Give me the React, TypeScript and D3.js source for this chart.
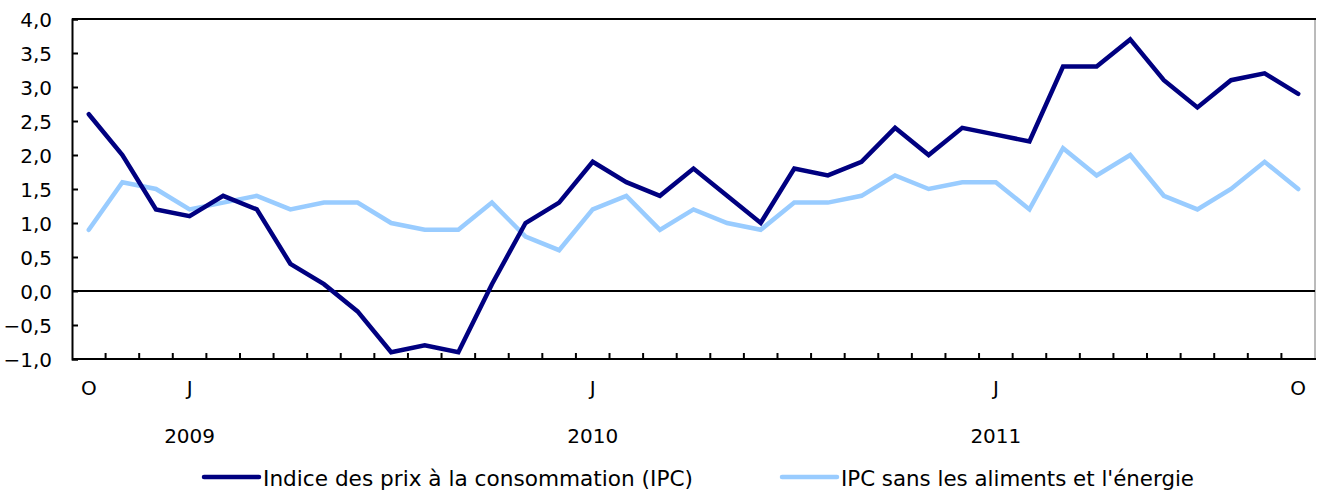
import React, { useEffect, useRef } from "react";
import * as d3 from "d3";

// mois d'octobre 2008 à octobre 2011
const months = ["O","N","D","J","F","M","A","M","J","J","A","S","O","N","D","J","F","M","A","M","J","J","A","S","O","N","D","J","F","M","A","M","J","J","A","S","O"];
const ipc = [2.6, 2.0, 1.2, 1.1, 1.4, 1.2, 0.4, 0.1, -0.3, -0.9, -0.8, -0.9, 0.1, 1.0, 1.3, 1.9, 1.6, 1.4, 1.8, 1.4, 1.0, 1.8, 1.7, 1.9, 2.4, 2.0, 2.4, 2.3, 2.2, 3.3, 3.3, 3.7, 3.1, 2.7, 3.1, 3.2, 2.9];
const ipcBase = [0.9, 1.6, 1.5, 1.2, 1.3, 1.4, 1.2, 1.3, 1.3, 1.0, 0.9, 0.9, 1.3, 0.8, 0.6, 1.2, 1.4, 0.9, 1.2, 1.0, 0.9, 1.3, 1.3, 1.4, 1.7, 1.5, 1.6, 1.6, 1.2, 2.1, 1.7, 2.0, 1.4, 1.2, 1.5, 1.9, 1.5];
const shownMonths = [0, 3, 15, 27, 36];
const years = [{ label: "2009", idx: 3 }, { label: "2010", idx: 15 }, { label: "2011", idx: 27 }];
const yTicks = [-1, -0.5, 0, 0.5, 1, 1.5, 2, 2.5, 3, 3.5, 4];
const seriesNames = ["Indice des prix à la consommation (IPC)", "IPC sans les aliments et l'énergie"];
const colors = ["#000080", "#99ccff"];

export default function App() {
  const ref = useRef<SVGSVGElement>(null);

  useEffect(() => {
    const svg = d3.select(ref.current);
    svg.selectAll("*").remove();
    const W = 1318, H = 491;
    const left = 72, right = 1315, top = 19, bottom = 359;
    const font = "'DejaVu Sans', Verdana, sans-serif";

    const x = d3.scaleBand<number>().domain(d3.range(months.length)).range([left, right]);
    const y = d3.scaleLinear().domain([-1, 4]).range([bottom, top]);
    const cx = (i: number) => (x(i) as number) + x.bandwidth() / 2;

    svg.attr("width", W).attr("height", H);
    const g = svg.append("g");

    // cadre
    g.append("line").attr("x1", right).attr("x2", right).attr("y1", top).attr("y2", bottom)
      .attr("stroke", "#777").attr("stroke-width", 1);
    g.append("line").attr("x1", left).attr("x2", right + 1).attr("y1", top).attr("y2", top)
      .attr("stroke", "#000").attr("stroke-width", 2);

    // axe y
    const yAxis = g.append("g").attr("transform", `translate(${left},0)`)
      .call(d3.axisRight(y).tickValues(yTicks).tickSize(6).tickFormat(() => ""));
    yAxis.select(".domain").attr("stroke-width", 2);
    yAxis.selectAll(".tick line").attr("stroke-width", 2);
    g.selectAll(".ylab").data(yTicks).enter().append("text")
      .attr("x", 52).attr("y", d => y(d) + 7.5)
      .attr("text-anchor", "end").attr("font-family", font).attr("font-size", 20)
      .text(d => d3.format(".1f")(d).replace(".", ","));

    // axe x (ticks vers le haut)
    const bounds = d3.range(1, months.length);
    g.selectAll(".xt").data(bounds).enter().append("line")
      .attr("x1", d => x(d) as number).attr("x2", d => x(d) as number)
      .attr("y1", bottom).attr("y2", bottom - 6)
      .attr("stroke", "#000").attr("stroke-width", 2);
    g.append("line").attr("x1", left).attr("x2", right + 1).attr("y1", bottom).attr("y2", bottom)
      .attr("stroke", "#000").attr("stroke-width", 2);

    g.selectAll(".mlab").data(shownMonths).enter().append("text")
      .attr("x", d => cx(d)).attr("y", 395)
      .attr("text-anchor", "middle").attr("font-family", font).attr("font-size", 20)
      .text(d => months[d]);
    g.selectAll(".yrlab").data(years).enter().append("text")
      .attr("x", d => cx(d.idx)).attr("y", 443)
      .attr("text-anchor", "middle").attr("font-family", font).attr("font-size", 20)
      .text(d => d.label);

    // ligne zéro
    g.append("line").attr("x1", left).attr("x2", right).attr("y1", y(0)).attr("y2", y(0))
      .attr("stroke", "#000").attr("stroke-width", 2);

    const line = d3.line<number>().x((_, i) => cx(i)).y(d => y(d));
    [ipcBase, ipc].forEach((s, k) => {
      g.append("path").datum(s).attr("d", line)
        .attr("fill", "none").attr("stroke", colors[1 - k]).attr("stroke-width", 4.5)
        .attr("stroke-linejoin", "miter").attr("stroke-linecap", "round");
    });

    // légende
    const legLine = [[204, 259], [782, 837]];
    const legText = [[263, 430], [841, 353]];
    seriesNames.forEach((name, k) => {
      g.append("line").attr("x1", legLine[k][0]).attr("x2", legLine[k][1])
        .attr("y1", 477).attr("y2", 477)
        .attr("stroke", colors[k]).attr("stroke-width", 4.5).attr("stroke-linecap", "round");
      g.append("text").attr("x", legText[k][0]).attr("y", 486)
        .attr("font-family", font).attr("font-size", 21)
        .attr("textLength", legText[k][1]).attr("lengthAdjust", "spacingAndGlyphs")
        .text(name);
    });
  }, []);

  return <svg ref={ref} style={{ position: "absolute", left: 0, top: 0 }} />;
}
